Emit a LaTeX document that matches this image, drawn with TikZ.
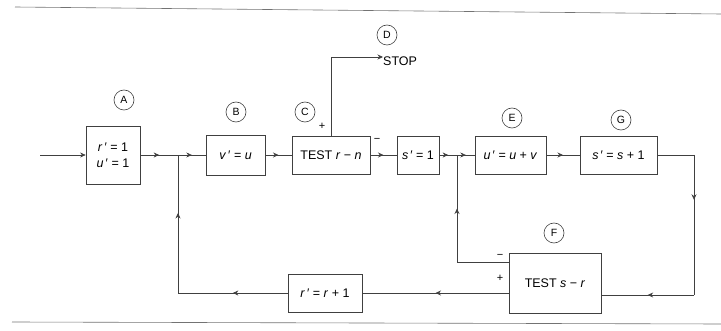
\documentclass[tikz,border=0pt]{standalone}
\usepackage{fontspec}
\setmainfont{Liberation Sans}
\usetikzlibrary{arrows.meta,decorations.markings,calc}
\newcommand{\vv}[1]{\textit{#1}}
\begin{document}
\begin{tikzpicture}[x=1pt,y=-1pt,
  ln/.style={draw=black!75, line width=0.7pt},
  blk/.style={ln, fill=white, inner sep=0pt, font=\fontsize{12.5}{15}\selectfont, align=center},
  tag/.style={draw=black!75, line width=0.6pt, circle, minimum size=20pt, inner sep=0pt, font=\fontsize{10.5}{12}\selectfont},
  sgn/.style={font=\fontsize{11}{12}\selectfont, inner sep=0pt},
  midarr/.style={ln, postaction={decorate}, decoration={markings, mark=at position #1 with {\arrow{Stealth[length=5.5pt,width=5pt]}}}},
  midarr/.default=0.5,
  endarr/.style={ln, -{Stealth[length=5.5pt,width=5pt]}}
]
\useasboundingbox (0,0) rectangle (721,331);
% scan rules
\draw[black!55, line width=0.6pt] (15,7) -- (721,14);
\draw[black!55, line width=0.6pt] (12,322) -- (721,324);

% boxes
\node[blk, minimum width=54pt, minimum height=58pt] (A) at (113,155) {\vv{r}\,′ = 1\\[1pt]\vv{u}\,′ = 1};
\node[blk, minimum width=59pt, minimum height=40pt] (B) at (235.5,155) {\vv{v}\,′ = \vv{u}};
\node[blk, minimum width=78pt, minimum height=38pt] (C) at (331,155) {TEST \vv{r} − \vv{n}};
\node[blk, minimum width=42pt, minimum height=38pt] (S) at (418,155) {\vv{s}\,′ = 1};
\node[blk, minimum width=71pt, minimum height=38pt] (E) at (510.5,155) {\vv{u}\,′ = \vv{u} + \vv{v}};
\node[blk, minimum width=77pt, minimum height=38pt] (G) at (618.5,155) {\vv{s}\,′ = \vv{s} + 1};
\node[blk, minimum width=92pt, minimum height=60pt] (F) at (555,283) {TEST \vv{s} − \vv{r}};
\node[blk, minimum width=74pt, minimum height=38pt] (R) at (325,293) {\vv{r}\,′ = \vv{r} + 1};

% letter tags
\node[tag] (tA) at (124,100) {A};
\node[tag] (tB) at (236,112) {B};
\node[tag] (tC) at (305,112) {C};
\node[tag] (tD) at (387,35) {D};
\node[tag] (tE) at (512,118) {E};
\node[tag] (tG) at (621,120) {G};
\node[tag] (tF) at (554,233) {F};

% STOP
\node[anchor=west, inner sep=0pt, font=\fontsize{12.5}{14}\selectfont] (stop) at (383,61) {STOP};

% signs
\node[sgn] (p1) at (322,126) {+};
\node[sgn] (m1) at (377,140) {−};
\node[sgn] (m2) at (500,256) {−};
\node[sgn] (p2) at (500,278) {+};

% junction & corner coordinates
\coordinate (in) at (40,155);
\coordinate (jA) at (178,155);
\coordinate (jE) at (457,155);
\coordinate (ctop) at (331,57);
\coordinate (gR) at (694,155);
\coordinate (gD) at (694,295);
\coordinate (fm) at (457,262);

% main row
\draw[endarr] (in) -- (A.west);
\draw[midarr] (A.east) -- (jA);
\draw[midarr] (jA) -- (B.west);
\draw[midarr] (B.east) -- (C.west);
\draw[midarr] (C.east) -- (S.west);
\draw[midarr] (S.east) -- (jE);
\draw[midarr] (jE) -- (E.west);
\draw[midarr] (E.east) -- (G.west);

% stop branch
\draw[ln] (C.north) -- (ctop);
\draw[endarr] (ctop) -- (ctop -| stop.west);

% right loop
\draw[ln] (G.east) -- (gR);
\draw[midarr=0.32] (gR) -- (gD);
\draw[midarr] (gD) -- (F.east |- gD);

% F minus branch back to jE
\draw[ln] (F.west |- fm) -- (jE |- fm);
\draw[midarr] (jE |- fm) -- (jE);

% F plus branch to r' = r + 1
\draw[midarr] (F.west |- R.east) -- (R.east);
\draw[midarr] (R.west) -- (jA |- R.west);
\draw[midarr=0.58] (jA |- R.west) -- (jA);
\end{tikzpicture}
\end{document}
